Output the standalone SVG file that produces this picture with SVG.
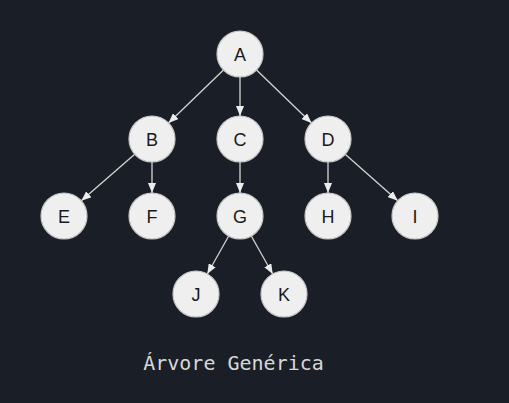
<svg xmlns="http://www.w3.org/2000/svg" width="509" height="403" viewBox="0 0 509 403">
<style>
.node circle{fill:#efefef;stroke:#c8c8c8;stroke-width:1.2}
.node text{font-family:"Liberation Sans",Arial,sans-serif;font-size:18px;fill:#1a1a1a;text-anchor:middle}
.edge{stroke:#d4d4d4;stroke-width:1.3;fill:none;marker-end:url(#arr)}
.caption{font-family:"DejaVu Sans Mono","Liberation Mono",monospace;font-size:20px;fill:#d8d8d8}
</style>
<defs>
<marker id="arr" markerUnits="userSpaceOnUse" markerWidth="11" markerHeight="8" refX="10" refY="4" orient="auto">
<path d="M0,0 L10,4 L0,8 z" fill="#ececec"/>
</marker>
</defs>
<rect x="0" y="0" width="509" height="403" fill="#1a1f27"/>
<g id="connectors">
<line class="edge" x1="223.46" y1="69.98" x2="168.54" y2="123.02"/>
<line class="edge" x1="240" y1="77" x2="240" y2="116"/>
<line class="edge" x1="256.54" y1="69.98" x2="311.46" y2="123.02"/>
<line class="edge" x1="134.69" y1="154.15" x2="81.31" y2="200.85"/>
<line class="edge" x1="152" y1="162" x2="152" y2="193"/>
<line class="edge" x1="240" y1="162" x2="240" y2="193"/>
<line class="edge" x1="328" y1="162" x2="328" y2="193"/>
<line class="edge" x1="345.22" y1="154.24" x2="397.78" y2="200.76"/>
<line class="edge" x1="228.7" y1="236.03" x2="207.3" y2="273.97"/>
<line class="edge" x1="251.3" y1="236.03" x2="272.7" y2="273.97"/>
</g>
<g id="node-A" class="node"><circle cx="240" cy="54" r="23"/><text x="240" y="60.5">A</text></g>
<g id="node-B" class="node"><circle cx="152" cy="139" r="23"/><text x="152" y="145.5">B</text></g>
<g id="node-C" class="node"><circle cx="240" cy="139" r="23"/><text x="240" y="145.5">C</text></g>
<g id="node-D" class="node"><circle cx="328" cy="139" r="23"/><text x="328" y="145.5">D</text></g>
<g id="node-E" class="node"><circle cx="64" cy="216" r="23"/><text x="64" y="222.5">E</text></g>
<g id="node-F" class="node"><circle cx="152" cy="216" r="23"/><text x="152" y="222.5">F</text></g>
<g id="node-G" class="node"><circle cx="240" cy="216" r="23"/><text x="240" y="222.5">G</text></g>
<g id="node-H" class="node"><circle cx="328" cy="216" r="23"/><text x="328" y="222.5">H</text></g>
<g id="node-I" class="node"><circle cx="415" cy="216" r="23"/><text x="415" y="222.5">I</text></g>
<g id="node-J" class="node"><circle cx="196" cy="294" r="23"/><text x="196" y="300.5">J</text></g>
<g id="node-K" class="node"><circle cx="284" cy="294" r="23"/><text x="284" y="300.5">K</text></g>
<text class="caption" x="233.5" y="370" text-anchor="middle">Árvore Genérica</text>
</svg>
